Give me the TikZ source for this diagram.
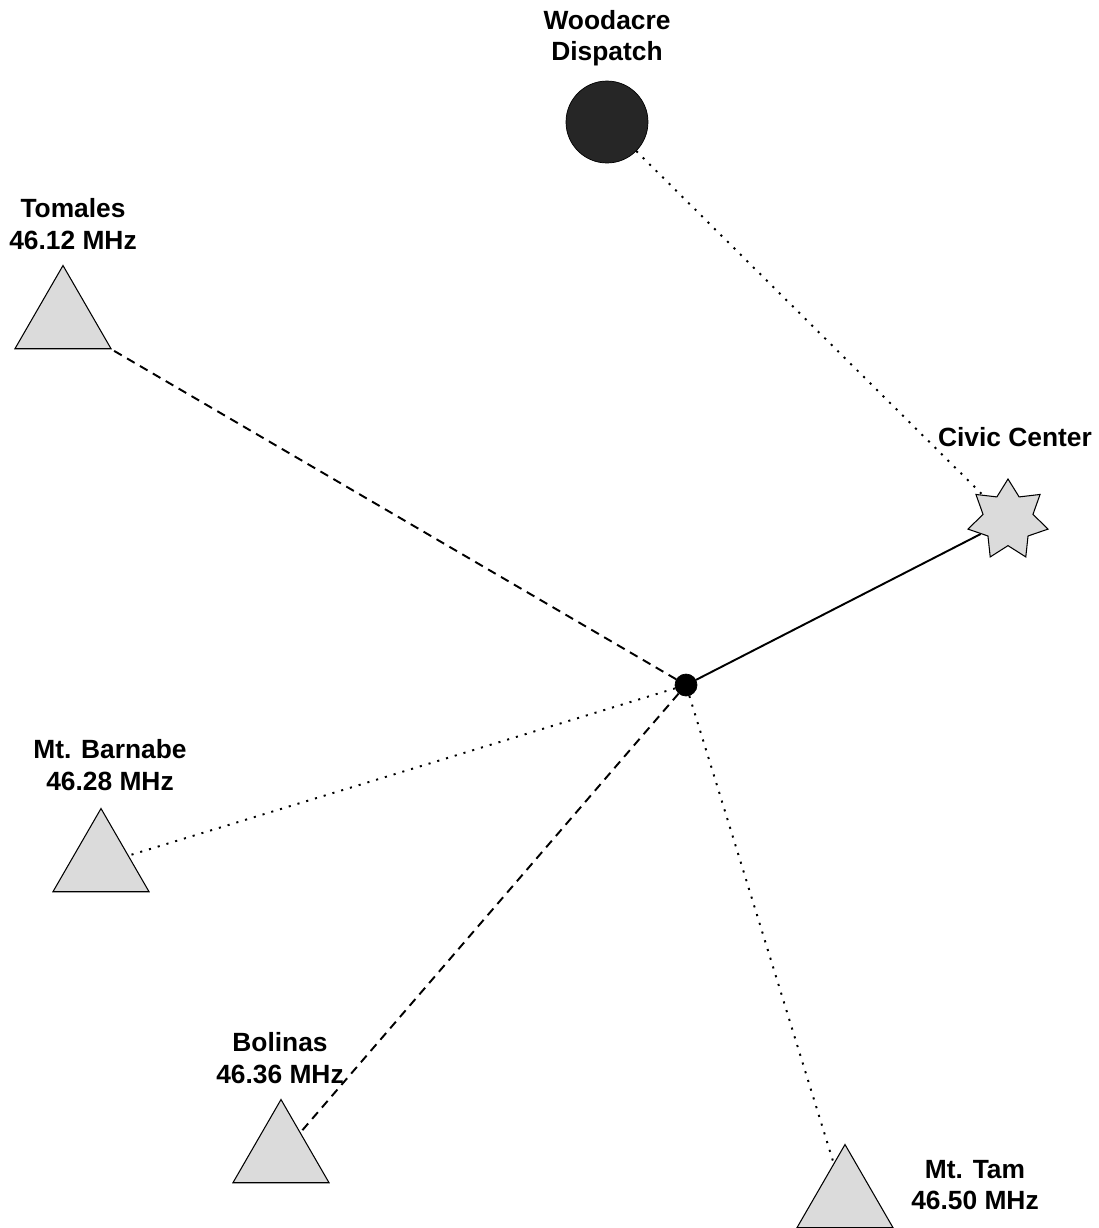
\documentclass[tikz,border=0pt]{standalone}
\usepackage{fontspec}
\setmainfont{Liberation Sans}
\usetikzlibrary{calc}
\usetikzlibrary{shapes.geometric}
\tikzstyle{sitenode} = [draw, regular polygon, regular polygon sides=3, minimum size=2.22cm, inner sep=0pt, fill=gray!28, line width=0.6pt]
\tikzstyle{labelnode} = [align=center, font=\fontsize{15}{18}\selectfont\bfseries]
\tikzstyle{hubnode} = [draw, circle, fill=black, minimum size=0.44cm, inner sep=0pt]
\tikzstyle{dispatchnode} = [draw, circle, fill=black!85, minimum size=1.64cm, inner sep=0pt]
\tikzstyle{starnode} = [draw, star, star points=7, star point ratio=1.6, minimum size=1.64cm, inner sep=0pt, fill=gray!28, line width=0.6pt]
\tikzstyle{dotline} = [line width=1.1pt, dash pattern=on 1.2pt off 4pt]
\tikzstyle{dashline} = [line width=1.1pt, dash pattern=on 5pt off 3.5pt]

\begin{document}
\begin{tikzpicture}[x=0.02cm,y=-0.02cm]
\useasboundingbox (0,0) rectangle (1099,1228);
\node[hubnode] (hub) at (686,685) {};
\node[dispatchnode] (woodacre) at (607,122) {};
\node[starnode] (civic) at (1008,520) {};
\node[sitenode] (tomales) at (63,321) {};
\node[sitenode] (barnabe) at (101,864) {};
\node[sitenode] (bolinas) at (281,1155) {};
\node[sitenode] (tam) at (845,1200) {};
\node[labelnode] (woodacrelabel) at ($(woodacre)+(0,-84)$) {Woodacre\\Dispatch};
\node[labelnode] (civiclabel) at ($(civic)+(7,-83)$) {Civic Center};
\node[labelnode] (tomaleslabel) at ($(tomales)+(10,-97)$) {Tomales\\46.12 MHz};
\node[labelnode] (barnabelabel) at ($(barnabe)+(9,-99)$) {Mt. Barnabe\\46.28 MHz};
\node[labelnode] (bolinaslabel) at ($(bolinas)+(-1,-97)$) {Bolinas\\46.36 MHz};
\node[labelnode] (tamlabel) at ($(tam)+(130,-15)$) {Mt. Tam\\46.50 MHz};
\draw[dotline] (woodacre) -- (civic);
\draw[line width=1.1pt] (hub) -- (civic);
\draw[dashline] (hub) -- (tomales);
\draw[dotline] (hub) -- (barnabe);
\draw[dashline] (hub) -- (bolinas);
\draw[dotline] (hub) -- (tam);
\end{tikzpicture}
\end{document}
